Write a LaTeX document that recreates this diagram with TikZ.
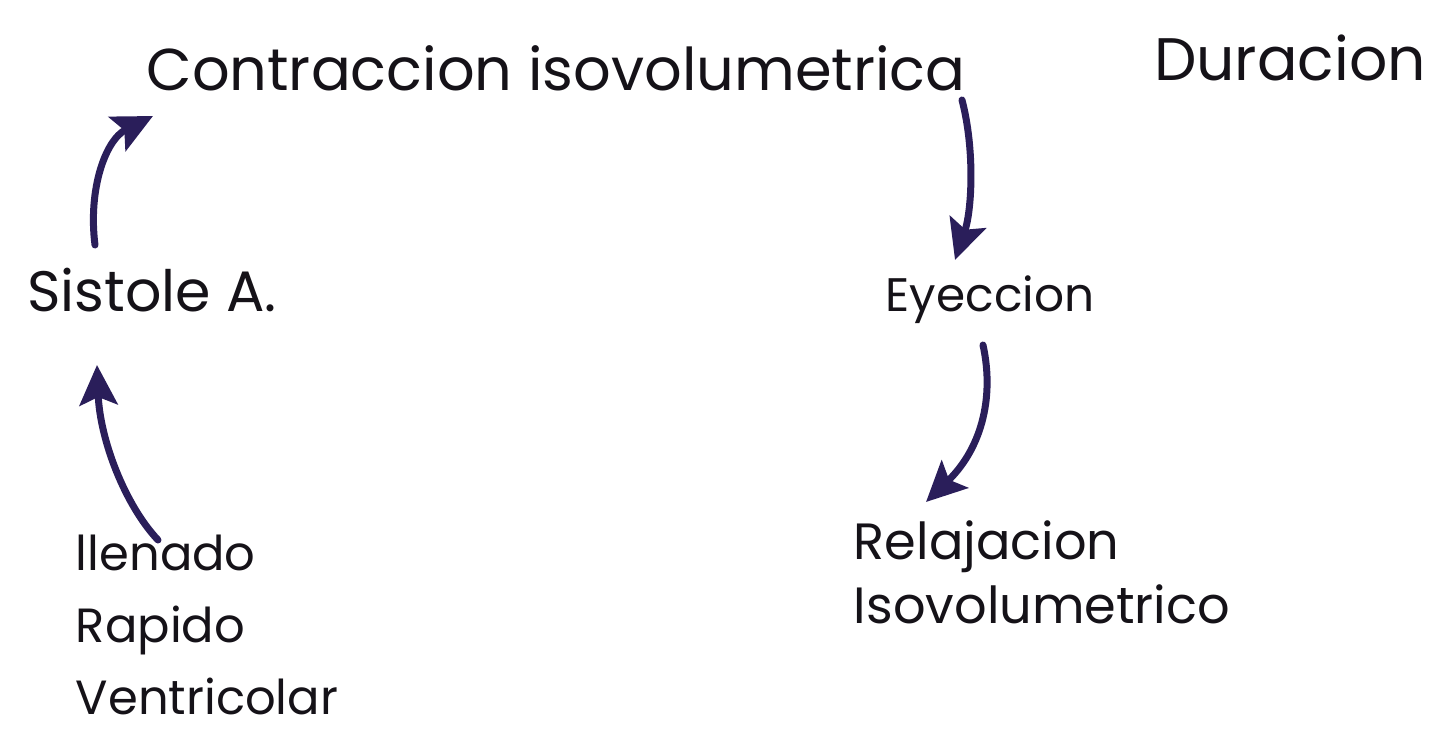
\documentclass[tikz,border=0pt]{standalone}
\usepackage{fontspec}
\setmainfont{Poppins}
\usetikzlibrary{arrows.meta}
\definecolor{ink}{HTML}{151218}
\definecolor{pen}{HTML}{2A1E5A}
\tikzset{
  lbl/.style={text=ink, inner sep=0pt, align=left},
  flow/.style={draw=pen, line width=7pt, line cap=round, -{Stealth[length=40pt,width=38pt,inset=8pt]}},
}
\begin{document}
\begin{tikzpicture}[x=1pt,y=-1pt]
\useasboundingbox[fill=white] (0,0) rectangle (1435,749);
\node[lbl, font=\fontsize{59}{70}\selectfont] (contr) at (556,68) {Contraccion isovolumetrica};
\node[lbl, font=\fontsize{60}{70}\selectfont] (dur) at (1290,58) {Duracion};
\node[lbl, font=\fontsize{47}{55}\selectfont] (eye) at (990,300) {Eyeccion};
\node[lbl, font=\fontsize{51}{64}\selectfont] (rel) at (1042,572) {Relajacion\\Isovolumetrico};
\node[lbl, font=\fontsize{57}{65}\selectfont] (sis) at (152,290) {Sistole A.};
\node[lbl, font=\fontsize{48}{72}\selectfont] (lle) at (207,625) {llenado\\Rapido\\Ventricolar};
\coordinate (a1s) at (962,100); \coordinate (a1e) at (955,260);
\coordinate (a2s) at (983,345); \coordinate (a2e) at (926,502);
\coordinate (a3s) at (158,540); \coordinate (a3e) at (97,365);
\coordinate (a4s) at (95,245); \coordinate (a4e) at (153,116);
\draw[flow] (a1s) .. controls (975,150) and (972,210) .. (a1e);
\draw[flow] (a2s) .. controls (995,400) and (980,450) .. (a2e);
\draw[flow] (a3s) .. controls (125,505) and (100,440) .. (a3e);
\draw[flow] (a4s) .. controls (88,190) and (105,140) .. (a4e);
\end{tikzpicture}
\end{document}
